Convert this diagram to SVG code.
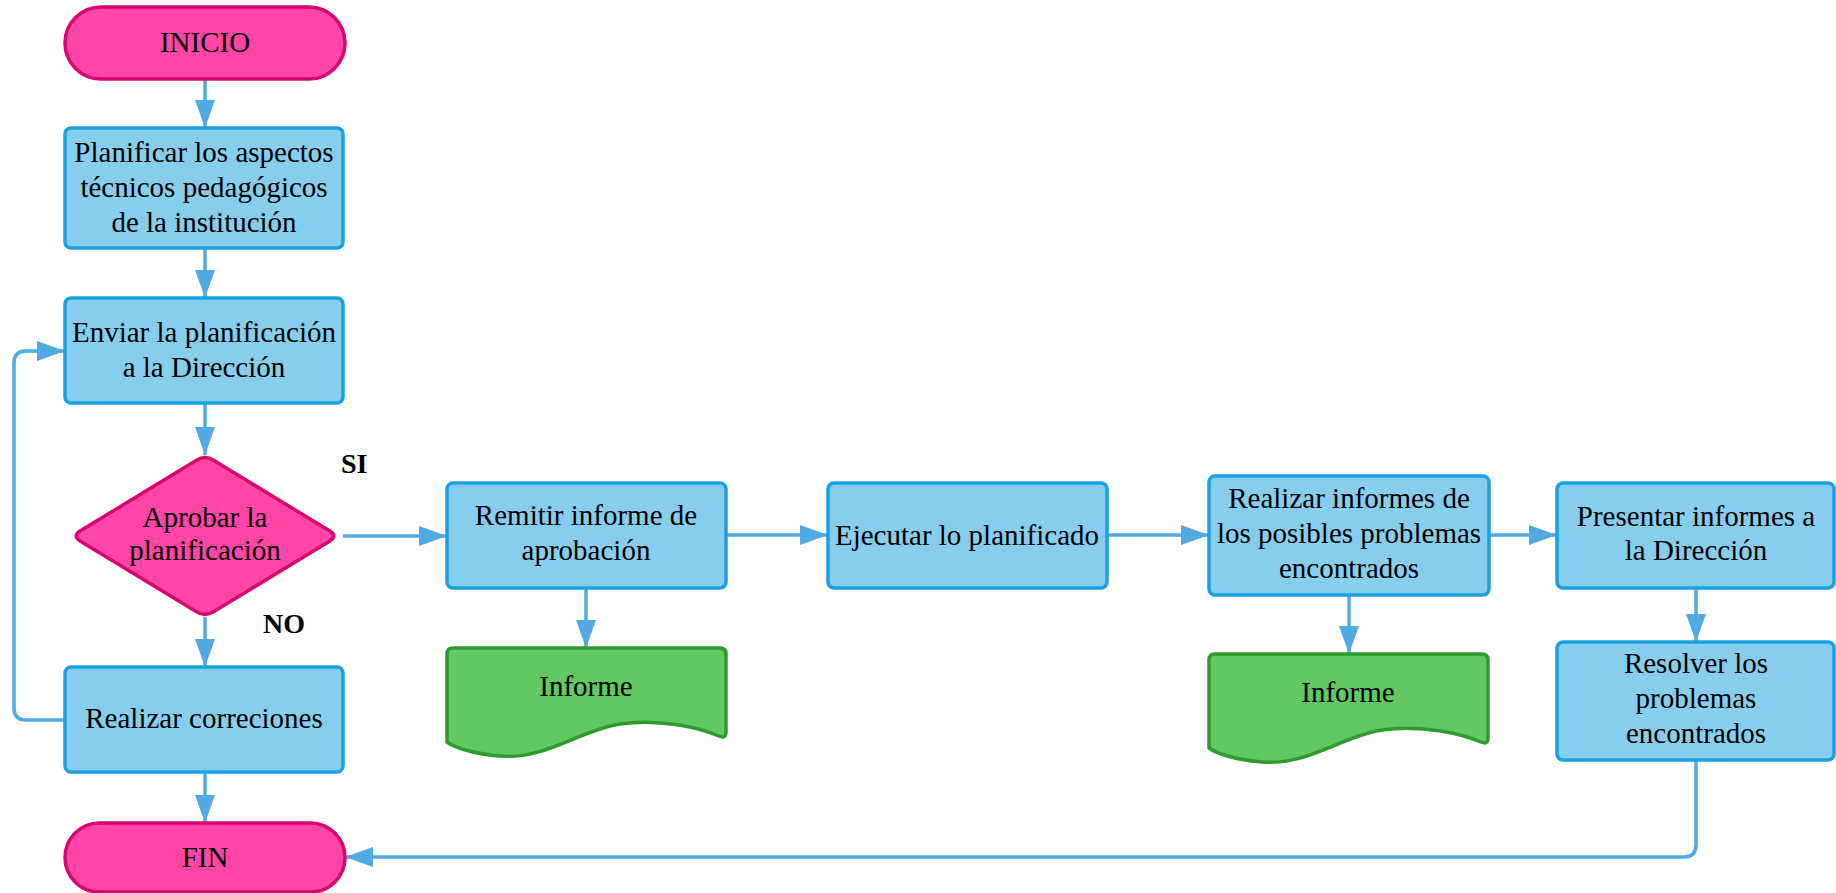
<svg xmlns="http://www.w3.org/2000/svg" width="1836" height="893" viewBox="0 0 1836 893">
  <style>
    .box { fill: #87CEEE; stroke: #1BA1E2; stroke-width: 3.5; }
    .term { fill: #FF45A5; stroke: #D4086E; stroke-width: 3.5; }
    .doc { fill: #62C862; stroke: #2F9A2F; stroke-width: 3.5; stroke-linejoin: round; }
    .lbl { font-family: "Liberation Serif", "Times New Roman", serif; font-size: 29px; fill: #000; text-anchor: middle; }
    .yn { font-family: "Liberation Serif", "Times New Roman", serif; font-size: 28px; font-weight: bold; fill: #000; }
    .conn { fill: none; stroke: #52AAE2; stroke-width: 3.5; }
  </style>
  <defs>
    <marker id="arrow" markerUnits="userSpaceOnUse" markerWidth="30" markerHeight="22" refX="28" refY="10" orient="auto">
      <path d="M0,0 L28,10 L0,20 Z" fill="#52AAE2"/>
    </marker>
    <path id="docShape" d="M447,654 Q447,648 453,648 L720,648 Q726,648 726,654 L726,732 Q726,739 719,736 C700,728 660,718 620,724 C580,730 545,760 500,756 C475,754 455,748 447,742 Z"/>
  </defs>

  <!-- connectors -->
  <g id="connectors">
    <path class="conn" d="M205,79 V128" marker-end="url(#arrow)"/>
    <path class="conn" d="M205,248 V298" marker-end="url(#arrow)"/>
    <path class="conn" d="M205,403 V455" marker-end="url(#arrow)"/>
    <path class="conn" d="M205,617 V667" marker-end="url(#arrow)"/>
    <path class="conn" d="M205,772 V823" marker-end="url(#arrow)"/>
    <path class="conn" d="M65,720 H26 Q14,720 14,708 V363 Q14,351 26,351 H65" marker-end="url(#arrow)"/>
    <path class="conn" d="M343,536 H447" marker-end="url(#arrow)"/>
    <path class="conn" d="M726,535 H828" marker-end="url(#arrow)"/>
    <path class="conn" d="M1107,535 H1209" marker-end="url(#arrow)"/>
    <path class="conn" d="M1489,535 H1557" marker-end="url(#arrow)"/>
    <path class="conn" d="M586,588 V648" marker-end="url(#arrow)"/>
    <path class="conn" d="M1349,595 V654" marker-end="url(#arrow)"/>
    <path class="conn" d="M1696,588 V642" marker-end="url(#arrow)"/>
    <path class="conn" d="M1696,760 V845 Q1696,857 1684,857 H345" marker-end="url(#arrow)"/>
  </g>

  <g id="inicio">
    <rect class="term" x="65" y="7" width="280" height="72" rx="36"/>
    <text class="lbl" x="205" y="52">INICIO</text>
  </g>

  <g id="planificar">
    <rect class="box" x="65" y="128" width="278" height="120" rx="6"/>
    <text class="lbl" x="204" y="162">Planificar los aspectos</text>
    <text class="lbl" x="204" y="197">técnicos pedagógicos</text>
    <text class="lbl" x="204" y="232">de la institución</text>
  </g>

  <g id="enviar">
    <rect class="box" x="65" y="298" width="278" height="105" rx="6"/>
    <text class="lbl" x="204" y="342">Enviar la planificación</text>
    <text class="lbl" x="204" y="377">a la Dirección</text>
  </g>

  <g id="aprobar">
    <path class="term" d="M213.5,460.2 L329.5,530.8 Q338,536 329.5,541.2 L213.5,611.8 Q205,617 196.5,611.8 L80.5,541.2 Q72,536 80.5,530.8 L196.5,460.2 Q205,455 213.5,460.2 Z"/>
    <text class="lbl" x="205" y="527">Aprobar la</text>
    <text class="lbl" x="205" y="560">planificación</text>
  </g>

  <g id="label-si">
    <text class="yn" x="341" y="473">SI</text>
  </g>
  <g id="label-no">
    <text class="yn" x="263" y="633">NO</text>
  </g>

  <g id="correcciones">
    <rect class="box" x="65" y="667" width="278" height="105" rx="6"/>
    <text class="lbl" x="204" y="728">Realizar correciones</text>
  </g>

  <g id="fin">
    <rect class="term" x="65" y="823" width="280" height="69" rx="34.5"/>
    <text class="lbl" x="205" y="867">FIN</text>
  </g>

  <g id="remitir">
    <rect class="box" x="447" y="483" width="279" height="105" rx="6"/>
    <text class="lbl" x="586" y="525">Remitir informe de</text>
    <text class="lbl" x="586" y="560">aprobación</text>
  </g>

  <g id="informe-1">
    <use href="#docShape" class="doc"/>
    <text class="lbl" x="586" y="696">Informe</text>
  </g>

  <g id="ejecutar">
    <rect class="box" x="828" y="483" width="279" height="105" rx="6"/>
    <text class="lbl" x="967" y="545">Ejecutar lo planificado</text>
  </g>

  <g id="realizar-informes">
    <rect class="box" x="1209" y="476" width="280" height="119" rx="6"/>
    <text class="lbl" x="1349" y="508">Realizar informes de</text>
    <text class="lbl" x="1349" y="543">los posibles problemas</text>
    <text class="lbl" x="1349" y="578">encontrados</text>
  </g>

  <g id="informe-2">
    <use href="#docShape" class="doc" transform="translate(762,6)"/>
    <text class="lbl" x="1348" y="702">Informe</text>
  </g>

  <g id="presentar">
    <rect class="box" x="1557" y="483" width="277" height="105" rx="6"/>
    <text class="lbl" x="1696" y="526">Presentar informes a</text>
    <text class="lbl" x="1696" y="560">la Dirección</text>
  </g>

  <g id="resolver">
    <rect class="box" x="1557" y="642" width="277" height="118" rx="6"/>
    <text class="lbl" x="1696" y="673">Resolver los</text>
    <text class="lbl" x="1696" y="708">problemas</text>
    <text class="lbl" x="1696" y="743">encontrados</text>
  </g>
</svg>
